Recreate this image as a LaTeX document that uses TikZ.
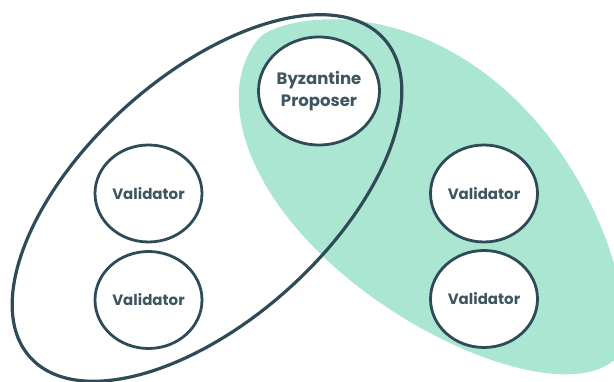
\documentclass[tikz,border=0pt]{standalone}
\usepackage{fontspec}
\setmainfont{Poppins}
\usetikzlibrary{shapes.geometric}
\definecolor{mint}{HTML}{ABE6D2}
\definecolor{slate}{HTML}{2E4B57}
\definecolor{txt}{HTML}{3F5560}
\tikzset{
  peer/.style={ellipse, draw=slate, line width=2.8pt, fill=white, inner sep=0pt,
    minimum width=107pt, minimum height=97pt, text=txt,
    font=\fontsize{15}{20}\selectfont\bfseries, align=center},
  group/.style={draw=slate, line width=3.2pt}
}
\begin{document}
\begin{tikzpicture}[x=1pt,y=1pt]
\useasboundingbox (0,0) rectangle (614,382);
\clip (0,0) rectangle (614,382);
% green group (egg-shaped, tilted)
\begin{scope}[shift={(438,193)}, rotate=-41.5]
\fill[mint]
  plot[domain=0:180, samples=91, variable=\t]
    ({6+240*cos(\t)}, {-4+122*pow(abs(sin(\t)),1.4)*(1-0.13*cos(\t))})
  -- plot[domain=180:360, samples=91, variable=\t]
    ({6+240*cos(\t)}, {-4+122*sin(\t)*(1-0.13*cos(\t))})
  -- cycle;
\end{scope}
% outlined group
\draw[group, rotate around={42:(207,184)}] (207,184) ellipse [x radius=238, y radius=122];
% nodes
\node[peer, minimum width=121pt, minimum height=108pt,
      font=\fontsize{16.5}{22}\selectfont\bfseries] (bp) at (319,291) {Byzantine\\Proposer};
\node[peer] (v1) at (148.5,188.5) {Validator};
\node[peer] (v2) at (148.5,82) {Validator};
\node[peer] (v3) at (484,188.5) {Validator};
\node[peer] (v4) at (484,83) {Validator};
\end{tikzpicture}
\end{document}
